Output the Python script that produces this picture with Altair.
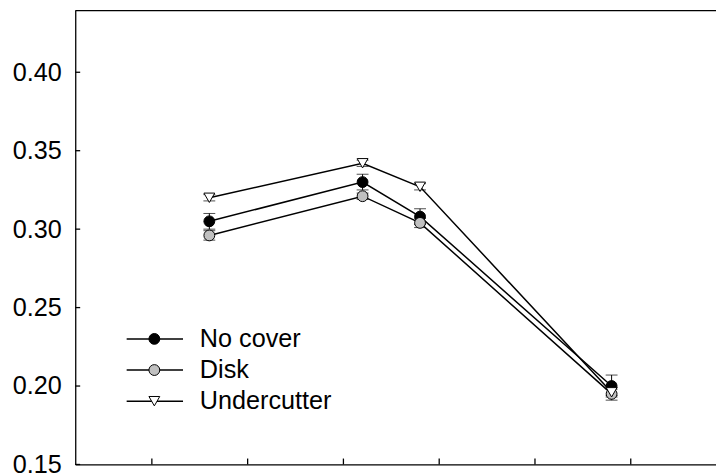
import altair as alt
import pandas as pd

series = ["No cover", "Disk", "Undercutter"]
x_pos = [1.6, 3.2, 3.8, 5.8]
no_cover = [0.305, 0.330, 0.308, 0.200]
no_cover_err = [0.005, 0.005, 0.005, 0.007]
disk = [0.296, 0.321, 0.304, 0.195]
disk_err = [0.003, 0.002, 0.003, 0.004]
undercutter = [0.320, 0.342, 0.327, 0.196]
undercutter_err = [0.002, 0.002, 0.002, 0.002]
y_ticks = [0.15, 0.20, 0.25, 0.30, 0.35, 0.40]
x_ticks = [1, 2, 3, 4, 5, 6]

fills = ["#000000", "#c0c0c0", "#ffffff"]
shapes = ["circle", "circle", "triangle-down"]

rows = []
for name, vals, errs in [("No cover", no_cover, no_cover_err),
                         ("Disk", disk, disk_err),
                         ("Undercutter", undercutter, undercutter_err)]:
    for xv, v, e in zip(x_pos, vals, errs):
        rows.append({"series": name, "x": xv, "y": v, "lo": v - e, "hi": v + e})
df = pd.DataFrame(rows)
leg_df = pd.DataFrame({"series": series, "row": list(range(len(series)))})

W, H = 648, 459
FONT = "Liberation Sans"
FS = 25.5

xscale = alt.Scale(domain=[0.2, 6.89], nice=False, zero=False)
yscale = alt.Scale(domain=[0.15, 0.4393], nice=False, zero=False)
shape_scale = alt.Scale(domain=series, range=shapes)
fill_scale = alt.Scale(domain=series, range=fills)
xaxis = alt.Axis(labels=False, ticks=False, grid=False, title=None,
                 domainColor="black", domainWidth=1.3)
yaxis = alt.Axis(values=y_ticks, format=".2f", labelFontSize=FS, labelFont=FONT,
                 labelColor="black", ticks=False, grid=False, title=None,
                 domainColor="black", domainWidth=1.3, labelPadding=14)

X = alt.X("x:Q", scale=xscale, axis=xaxis)
Y = alt.Y("y:Q", scale=yscale, axis=yaxis)

base = alt.Chart(df)

lines = base.mark_line(color="black", strokeWidth=1.5).encode(
    x=X, y=Y, detail="series:N", order="x:Q")

err = base.mark_rule(color="black", strokeWidth=1).encode(
    x=X, y=alt.Y("lo:Q", scale=yscale, axis=yaxis), y2="hi:Q")

caps = base.transform_fold(["lo", "hi"], as_=["k", "cv"]).mark_tick(
    color="black", thickness=1, size=12, orient="horizontal").encode(
    x=X, y=alt.Y("cv:Q", scale=yscale, axis=yaxis))

pts = base.mark_point(filled=False, size=120, opacity=1, stroke="black",
                      strokeWidth=1).encode(
    x=X, y=Y,
    shape=alt.Shape("series:N", scale=shape_scale, legend=None),
    fill=alt.Fill("series:N", scale=fill_scale, legend=None),
)

# legend (drawn as marks, laid out in pixels)
lbase = alt.Chart(leg_df).transform_calculate(ly="332 + 31.5 * datum.row")
LY = alt.Y("ly:Q", scale=None)
leg_line = lbase.mark_rule(color="black", strokeWidth=1.5).encode(
    y=LY, x=alt.value(52), x2=alt.value(109))
leg_pt = lbase.mark_point(filled=False, size=120, opacity=1, stroke="black",
                          strokeWidth=1).encode(
    y=LY, x=alt.value(80),
    shape=alt.Shape("series:N", scale=shape_scale, legend=None),
    fill=alt.Fill("series:N", scale=fill_scale, legend=None),
)
leg_txt = lbase.mark_text(align="left", baseline="middle", font=FONT, fontSize=FS,
                          color="black").encode(
    y=LY, x=alt.value(126), text="series:N")

ytk = alt.Chart(pd.DataFrame({"t": y_ticks})).mark_rule(color="black", strokeWidth=1.3).encode(
    y=alt.Y("t:Q", scale=yscale, axis=yaxis), x=alt.value(0), x2=alt.value(5))
xtk = alt.Chart(pd.DataFrame({"t": x_ticks})).mark_rule(color="black", strokeWidth=1.3).encode(
    x=alt.X("t:Q", scale=xscale, axis=xaxis), y=alt.value(H), y2=alt.value(H - 6))
top = alt.Chart(pd.DataFrame({"a": [0]})).mark_rule(color="black", strokeWidth=1.3).encode(
    x=alt.value(0), x2=alt.value(W), y=alt.value(0))

chart = alt.layer(lines, err, caps, pts, ytk, xtk, top,
                  leg_line, leg_pt, leg_txt).properties(
    width=W, height=H,
    autosize=alt.AutoSizeParams(type="none"),
    padding={"left": 68, "top": 0, "right": 0, "bottom": 7},
).configure_view(stroke=None)

chart.save("out.html", embed_options={"renderer": "svg", "actions": False})
